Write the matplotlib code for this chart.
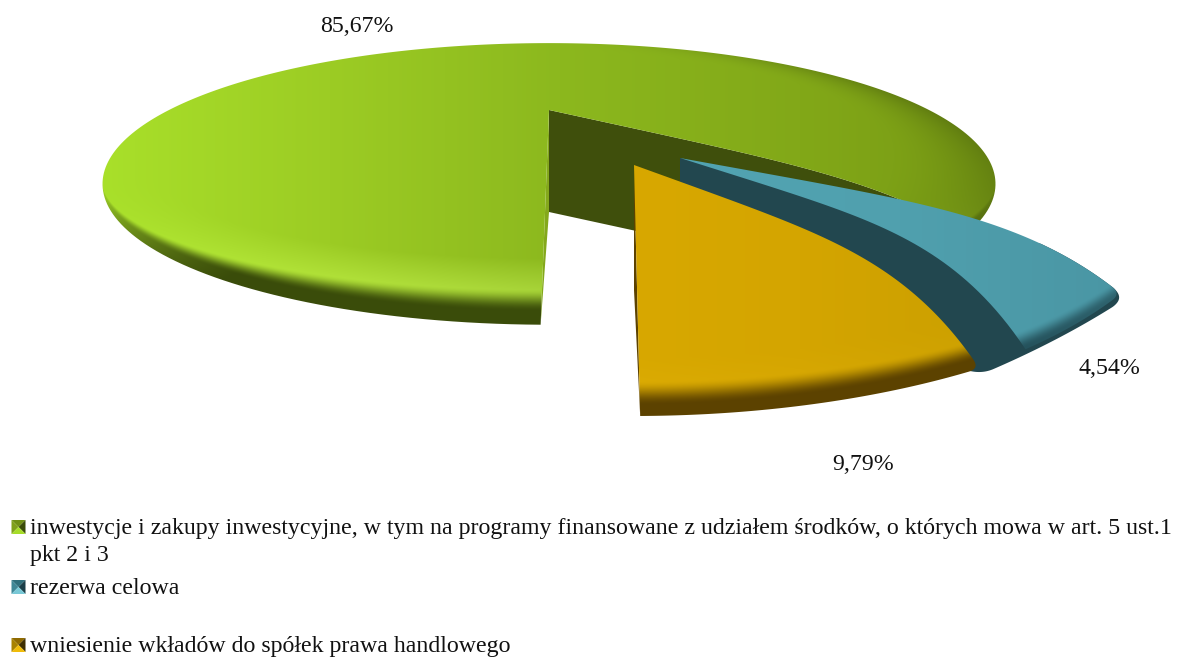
import numpy as np
import matplotlib
matplotlib.use('Agg')
import matplotlib.pyplot as plt
from matplotlib.patches import Polygon

# Data
slice_names = ['inwestycje i zakupy inwestycyjne, w tym na programy finansowane z udziałem środków, o których mowa w art. 5 ust.1\npkt 2 i 3',
               'rezerwa celowa',
               'wniesienie wkładów do spółek prawa handlowego']
slice_values = [85.67, 4.54, 9.79]
legend_icons = [['#6F8F14', '#7FA01A', '#3A4C08', '#A6DC28'],
                ['#2F6F7C', '#3F8796', '#1A3E48', '#78C8D6'],
                ['#8F6A00', '#A88200', '#3E2E00', '#F0BC08']]

# Look of each slice: apex, perspective radii, rim shading
slices = [
    dict(ax=549, ay=110, rx=380, ry=102, k=0.525, tilt=0, bend=(0, 0), depth=102,
         xs=[100, 330, 560, 800, 995],
         cols=['#A9E02A', '#9CCC24', '#8CB81E', '#82A818', '#789A14'],
         rim='#3A4C0A', r0=0.915, band=0.65, glow=0.10, soft=0.4, round=0, wall='#3F4F0C'),
    dict(ax=680, ay=158, rx=520, ry=256, k=0, tilt=7, bend=(30, 44), depth=102,
         xs=[680, 900, 1120],
         cols=['#52A4B2', '#50A0AE', '#4A96A4'],
         rim='#24505A', r0=0.90, band=0.9, glow=0, soft=0, round=22, wall='#22474F'),
    dict(ax=634, ay=165, rx=590, ry=251, k=0, tilt=1.2, bend=(42, 0), depth=125,
         xs=[634, 800, 975],
         cols=['#D8A800', '#D4A500', '#CCA000'],
         rim='#5C4200', r0=0.86, band=0.69, glow=0.01, soft=0, round=22, wall='#5C4200'),
]

start_angle = -90.6

W, H = 1182, 658
fig = plt.figure(figsize=(W / 100, H / 100), dpi=100)
ax = fig.add_axes([0, 0, 1, 1])
ax.set_xlim(0, W)
ax.set_ylim(H, 0)
ax.axis('off')

plt.rcParams['font.family'] = ['Liberation Serif', 'DejaVu Serif']


def project(s, r, th):
    X = r * np.cos(th)
    Y = r * np.sin(th)
    w = 1 + s['k'] * Y
    return s['ax'] + s['rx'] * X / w, s['ay'] - s['ry'] * Y / w


def radial_edge(s, th, bend):
    r = np.linspace(0, 1, 60)
    x, y = project(s, r, th)
    return x, y - bend * 1.87 * r * (1 - r ** 4)


def round_path(x, y, win):
    # resample to 1px steps and smooth with a box window, ends pinned
    d = np.r_[0, np.cumsum(np.hypot(np.diff(x), np.diff(y)))]
    t = np.arange(0, d[-1], 1.0)
    px = np.interp(t, d, x)
    py = np.interp(t, d, y)
    kernel = np.ones(win) / win
    sx = np.convolve(np.pad(px, win, mode='edge'), kernel, mode='same')[win:-win]
    sy = np.convolve(np.pad(py, win, mode='edge'), kernel, mode='same')[win:-win]
    return sx, sy


def shade(s):
    xx, yy = np.meshgrid(np.arange(W) + 0.5, np.arange(H) + 0.5)
    u = (xx - s['ax']) / s['rx']
    v = (s['ay'] - yy) / s['ry']
    Y = v / (1 - s['k'] * v)
    X = u * (1 + s['k'] * Y)
    r = np.maximum(np.hypot(X, Y), 1e-6)
    rgb = np.array([matplotlib.colors.to_rgb(c) for c in s['cols']])
    img = np.dstack([np.interp(xx, s['xs'], rgb[:, i]) for i in range(3)])
    # 0 at the widest points of the ellipse on screen, 1 at the very front
    front = np.clip(-(Y / r + s['k']) / (1 - s['k']), 0, 1)
    # soft falloff towards the right side of the rim
    side = np.clip((r - 0.8) / 0.2, 0, 1) ** 2 * np.clip(X / r, 0, 1) ** 2
    dark = np.array(matplotlib.colors.to_rgb(s['rim']))
    img = img * (1 - s['soft'] * side[..., None]) + dark * s['soft'] * side[..., None]
    # bevel gets thinner away from the front, with a lit line on its inner side
    r0 = 1 - (1 - s['r0']) * front ** 1.5
    width = np.maximum((1 - r0) * s['band'], 1e-4)
    t = np.clip((r - r0) / width, 0, 1)
    t = t * t * (3 - 2 * t) * np.clip(front * 1.3, 0, 1)
    glow = np.clip(1 - np.abs(r - r0) / 0.09, 0, 1) * front ** 2
    img = img + (s['glow'] * glow)[..., None]
    img = img * (1 - t[..., None]) + dark * t[..., None]
    return np.clip(img, 0, 1)


def draw_surface(s, pts, z):
    im = ax.imshow(shade(s), extent=(0, W, H, 0), aspect='auto', zorder=z, interpolation='bilinear')
    patch = Polygon(pts, closed=True, transform=ax.transData, fc='none', ec='none')
    ax.add_patch(patch)
    im.set_clip_path(patch)


# angles of the slices follow the values, clockwise from the front
sweeps = np.radians(np.array(slice_values) / sum(slice_values) * 360)
ends = np.radians(start_angle) - np.cumsum(sweeps)
starts = ends + sweeps

for i, s in enumerate(slices):
    a = starts[i] + np.radians(s['tilt'])
    b = ends[i] + np.radians(s['tilt'])
    th = np.linspace(a, b, 300)
    ax0, ay0 = s['ax'], s['ay']
    arc_x, arc_y = project(s, 1, th)
    ex_a, ey_a = radial_edge(s, a, s['bend'][0])
    ex_b, ey_b = radial_edge(s, b, s['bend'][1])
    z = 2 + i * 3

    if i == 0:
        # the far cut curls round near the rim and runs under the blue slice
        r = np.linspace(0, 1, 60)
        ex_b, ey_b = project(s, r, b - np.radians(9) * r ** 5)
        th = np.linspace(a, b - np.radians(9), 300)
        arc_x, arc_y = project(s, 1, th)
        wall = np.r_[np.c_[ex_b, ey_b], np.c_[ex_b, ey_b + s['depth']][::-1]]
        ax.add_patch(Polygon(wall, closed=True, fc=s['wall'], ec='none', zorder=z))
        # narrow lit wall at the front cut
        strip = [(ax0, ay0), (ax0, ay0 + s['depth']), (ex_a[-1], ey_a[-1])]
        ax.add_patch(Polygon(strip, closed=True, fc='#84A81C', ec='none', zorder=z))
    elif i == 1:
        # dark wall under the front radial edge and rim, same nose as the top face
        shift = np.linspace(0, 1, len(th))
        low_x = arc_x + shift * -42
        low_y = arc_y + shift * 24 + 8 * (1 - shift)
        low_x, low_y = round_path(np.r_[ex_a[-12:], low_x, low_x[-1] - 60],
                                  np.r_[ey_a[-12:], low_y, low_y[-1] - 10], 22)
        wall = np.r_[[(ax0, ay0)], [(ax0, ay0 + s['depth'])], np.c_[low_x, low_y][::-1]]
        ax.add_patch(Polygon(wall, closed=True, fc=s['wall'], ec='none', zorder=z))
    else:
        wall = [(ax0, ay0), (ax0, ay0 + s['depth']), (arc_x[-1], arc_y[-1])]
        ax.add_patch(Polygon(wall, closed=True, fc=s['wall'], ec='none', zorder=z))

    # top face: far cut and rim (tip rounded), then the near cut
    path_x = np.r_[ex_a, arc_x]
    path_y = np.r_[ey_a, arc_y]
    if s['round']:
        path_x, path_y = round_path(path_x, path_y, s['round'])
    draw_surface(s, np.c_[np.r_[path_x, ex_b[::-1]], np.r_[path_y, ey_b[::-1]]], z + 1)

# percent labels
label_pos = [(357, 27), (1109, 369), (863, 465)]
for v, (lx, ly) in zip(slice_values, label_pos):
    ax.text(lx, ly, f'{v:.2f}%'.replace('.', ','), ha='center', va='center',
            fontsize=17.2, color='#111111', zorder=20)

# legend
legend_y = [527, 587, 645]
for name, icon, y in zip(slice_names, legend_icons, legend_y):
    x0, x1, y0, y1 = 11.5, 25.5, y - 7, y + 7
    mid = ((x0 + x1) / 2, y)
    tris = [[(x0, y0), (x1, y0), mid], [(x0, y0), (x0, y1), mid],
            [(x1, y0), (x1, y1), mid], [(x0, y1), (x1, y1), mid]]
    for tri, c in zip(tris, icon):
        ax.add_patch(Polygon(tri, closed=True, fc=c, ec='none', zorder=20))
    ax.text(30, y - 9, name, ha='left', va='top', fontsize=17.2, color='#111111',
            linespacing=1.36, zorder=20)

fig.savefig('out.png', dpi=100, facecolor='white')
